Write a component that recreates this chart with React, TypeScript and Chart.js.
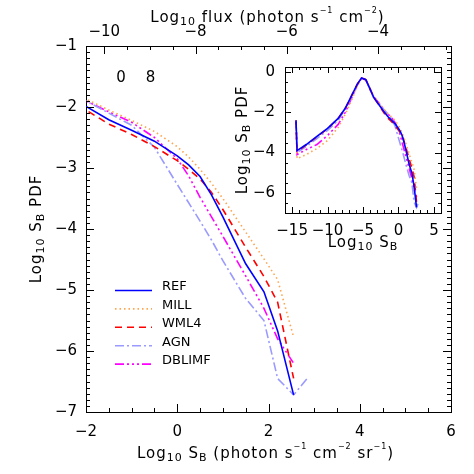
import React, { useEffect, useRef } from 'react';
import { Chart, registerables } from 'chart.js';
Chart.register(...registerables);

// ---------------- data ----------------
const sbGrid = [-14.45, -14.3, -13, -11.5, -10, -8.5, -7.5, -6.5, -5.8, -5.2, -4.6, -4.0, -3.5, -2.8, -2, -1.5, -1, -0.5, 0, 0.25, 0.5, 0.75, 1, 1.5, 1.9, 2.2, 2.55, 2.85];
const refPdf = [-2.4, -3.9, -3.6, -3.2, -2.8, -2.3, -1.8, -1.1, -0.6, -0.3, -0.38, -0.85, -1.25, -1.6, -1.99, -2.21, -2.38, -2.56, -2.8, -2.95, -3.14, -3.44, -3.8, -4.57, -5.03, -5.67, -6.72, null];
const millPdf = [-2.4, -4.3, -4.1, -3.8, -3.4, -2.75, -2.1, -1.3, -0.7, -0.32, -0.38, -0.82, -1.2, -1.5, -1.87, -2.05, -2.22, -2.4, -2.65, -2.82, -3.02, -3.25, -3.5, -4.05, -4.49, -4.83, -5.77, null];
const wml4Pdf = [-2.4, -3.95, -3.62, -3.22, -2.82, -2.3, -1.8, -1.1, -0.6, -0.3, -0.38, -0.85, -1.25, -1.62, -2.05, -2.28, -2.45, -2.65, -2.88, -3.02, -3.18, -3.4, -3.68, -4.3, -4.78, -5.2, -6.45, null];
const agnPdf = [-2.4, -4.0, -3.7, -3.3, -2.9, -2.4, -1.85, -1.12, -0.62, -0.3, -0.4, -0.88, -1.28, -1.55, -1.9, -2.1, -2.3, -2.66, -3.27, -3.57, -3.87, -4.18, -4.52, -5.14, -5.5, -6.45, -6.72, -6.45];
const dblimfPdf = [-2.4, -4.1, -3.85, -3.6, -3.15, -2.6, -2.0, -1.2, -0.65, -0.3, -0.38, -0.83, -1.22, -1.52, -1.9, -2.08, -2.25, -2.5, -2.85, -3.13, -3.48, -3.8, -4.12, -4.77, -5.3, -5.8, -6.2, null];
const seriesNames = ['REF', 'MILL', 'WML4', 'AGN', 'DBLIMF'];
const seriesValues = [refPdf, millPdf, wml4Pdf, agnPdf, dblimfPdf];

const mainXTicks = [-2, 0, 2, 4, 6];
const mainYTicks = [-7, -6, -5, -4, -3, -2, -1];
const fluxTicks = [-10, -8, -6, -4];
const insetXTicks = [-15, -10, -5, 0, 5];
const insetYTicks = [-6, -4, -2, 0];
const cornerLabels = ['0', '8'];

// ---------------- styles ----------------
const FONT = '"DejaVu Sans"';
const seriesStyles = [
  { color: '#0000ff', dash: [] as number[] },
  { color: '#ffa54f', dash: [1.5, 3] },
  { color: '#ff0000', dash: [7, 5] },
  { color: '#9a9aff', dash: [9, 3, 2, 3] },
  { color: '#ff00ff', dash: [9, 3, 2, 3, 2, 3, 2, 3] },
];

const fmt = (v: number) => (v < 0 ? '\u2212' + Math.abs(v) : String(v));

function buildDatasets() {
  return seriesNames.map((name, i) => ({
    label: name,
    data: sbGrid
      .map((x, j) => ({ x, y: seriesValues[i][j] }))
      .filter((p) => p.y !== null) as { x: number; y: number }[],
    borderColor: seriesStyles[i].color,
    borderDash: seriesStyles[i].dash,
    borderWidth: 1.6,
    pointRadius: 0,
    tension: 0,
    fill: false,
  }));
}

type Seg = [string, number];
function drawRich(ctx: CanvasRenderingContext2D, segs: Seg[], cx: number, cy: number, rot: number, size: number) {
  ctx.save();
  ctx.translate(cx, cy);
  if (rot) ctx.rotate(rot);
  (ctx as any).letterSpacing = '1px';
  const fontFor = (k: number) => `${k === 0 ? size : k < 0 ? 11 : 8}px ${FONT}`;
  const widths = segs.map(([t, k]) => {
    ctx.font = fontFor(k);
    return ctx.measureText(t).width;
  });
  const total = widths.reduce((a, b) => a + b, 0);
  let x = -total / 2;
  ctx.fillStyle = '#000';
  ctx.textBaseline = 'alphabetic';
  ctx.textAlign = 'left';
  const base = size * 0.365;
  segs.forEach(([t, k], i) => {
    ctx.font = fontFor(k);
    const dy = k < 0 ? 3 : k > 0 ? -9 : 0;
    ctx.fillText(t, x, base + dy);
    x += widths[i];
  });
  ctx.restore();
}

type TickSpec = { id: string; side: 'top' | 'bottom' | 'left' | 'right'; major: number[]; minor: number; majorLen: number; minorLen: number };
function ticksPlugin(specs: TickSpec[]) {
  return {
    id: 'inwardTicks',
    afterDraw(chart: any) {
      const { ctx, chartArea: a } = chart;
      ctx.save();
      ctx.strokeStyle = '#000';
      ctx.lineWidth = 1;
      for (const s of specs) {
        const sc = chart.scales[s.id];
        const start = Math.ceil(sc.min / s.minor - 1e-6);
        const end = Math.floor(sc.max / s.minor + 1e-6);
        for (let n = start; n <= end; n++) {
          const v = n * s.minor;
          const isMajor = s.major.some((m) => Math.abs(m - v) < 1e-6);
          const len = isMajor ? s.majorLen : s.minorLen;
          const p = Math.round(sc.getPixelForValue(v)) + 0.5;
          ctx.beginPath();
          if (s.side === 'bottom') { ctx.moveTo(p, a.bottom); ctx.lineTo(p, a.bottom - len); }
          else if (s.side === 'top') { ctx.moveTo(p, a.top); ctx.lineTo(p, a.top + len); }
          else if (s.side === 'left') { ctx.moveTo(a.left, p); ctx.lineTo(a.left + len, p); }
          else { ctx.moveTo(a.right, p); ctx.lineTo(a.right - len, p); }
          ctx.stroke();
        }
      }
      ctx.restore();
    },
  };
}

const titleBottom: Seg[] = [['Log', 0], ['10', -1], [' S', 0], ['B', -1], [' (photon s', 0], ['\u22121', 1], [' cm', 0], ['\u22122', 1], [' sr', 0], ['\u22121', 1], [')', 0]];
const titleTop: Seg[] = [['Log', 0], ['10', -1], [' flux (photon s', 0], ['\u22121', 1], [' cm', 0], ['\u22122', 1], [')', 0]];
const titleLeft: Seg[] = [['Log', 0], ['10', -1], [' S', 0], ['B', -1], [' PDF', 0]];
const titleInsetX: Seg[] = [['Log', 0], ['10', -1], [' S', 0], ['B', -1]];

const mainDecor = {
  id: 'mainDecor',
  afterDraw(chart: any) {
    const { ctx, chartArea: a } = chart;
    const cx = (a.left + a.right) / 2;
    drawRich(ctx, titleBottom, cx - 3, a.bottom + 41, 0, 15);
    drawRich(ctx, titleTop, cx - 1, a.top - 29, 0, 15);
    drawRich(ctx, titleLeft, a.left - 50, (a.top + a.bottom) / 2, -Math.PI / 2, 15);
    // corner labels
    ctx.save();
    ctx.fillStyle = '#000';
    ctx.font = `15px ${FONT}`;
    ctx.textAlign = 'center';
    ctx.textBaseline = 'middle';
    ctx.fillText(cornerLabels[0], a.left + 35, a.top + 32);
    ctx.fillText(cornerLabels[1], a.left + 64.5, a.top + 32);
    ctx.restore();
    // legend
    chart.data.datasets.forEach((ds: any, i: number) => {
      const ty = a.top + 241 + 18.4 * i;
      ctx.save();
      ctx.strokeStyle = ds.borderColor;
      ctx.lineWidth = ds.borderWidth;
      ctx.setLineDash(ds.borderDash || []);
      ctx.beginPath();
      ctx.moveTo(a.left + 29, ty + 3.5);
      ctx.lineTo(a.left + 66, ty + 3.5);
      ctx.stroke();
      ctx.setLineDash([]);
      ctx.fillStyle = '#000';
      ctx.font = `13px ${FONT}`;
      ctx.textAlign = 'left';
      ctx.textBaseline = 'middle';
      ctx.fillText(ds.label, a.left + 76, ty);
      ctx.restore();
    });
  },
};

const insetDecor = {
  id: 'insetDecor',
  afterDraw(chart: any) {
    const { ctx, chartArea: a } = chart;
    drawRich(ctx, titleInsetX, (a.left + a.right) / 2, a.bottom + 29, 0, 15);
    drawRich(ctx, titleLeft, a.left - 43, (a.top + a.bottom) / 2, -Math.PI / 2, 15);
  },
};

const fixedTicks = (vals: number[]) => (scale: any) => {
  scale.ticks = vals.map((v) => ({ value: v }));
};

export default function App() {
  const mainRef = useRef<HTMLCanvasElement>(null);
  const insetRef = useRef<HTMLCanvasElement>(null);

  useEffect(() => {
    const tickFont = { family: 'DejaVu Sans', size: 15 };
    const border = { display: true, color: '#000', width: 1 };
    const main = new Chart(mainRef.current!, {
      type: 'line',
      data: { datasets: buildDatasets() as any },
      options: {
        responsive: false,
        animation: false,
        events: [],
        layout: { padding: 0 },
        plugins: { legend: { display: false }, tooltip: { enabled: false }, title: { display: false } },
        scales: {
          x: {
            type: 'linear', position: 'bottom', min: -2, max: 6,
            afterBuildTicks: fixedTicks(mainXTicks),
            afterFit: (s: any) => { s.height = 62; },
            grid: { display: false, drawTicks: false }, border,
            ticks: { color: '#000', font: tickFont, padding: 11, maxRotation: 0, callback: (v: any) => fmt(v) },
          },
          x2: {
            type: 'linear', position: 'top', min: -10.4, max: -2.4,
            afterBuildTicks: fixedTicks(fluxTicks),
            afterFit: (s: any) => { s.height = 46; },
            grid: { display: false, drawTicks: false }, border,
            ticks: { color: '#000', font: tickFont, padding: 5, maxRotation: 0, callback: (v: any) => fmt(v) },
          },
          y: {
            type: 'linear', position: 'left', min: -7, max: -1,
            afterBuildTicks: fixedTicks(mainYTicks),
            afterFit: (s: any) => { s.width = 86; },
            grid: { display: false, drawTicks: false }, border,
            ticks: { color: '#000', font: tickFont, padding: 9, callback: (v: any) => fmt(v) },
          },
          y2: {
            type: 'linear', position: 'right', min: -7, max: -1,
            afterFit: (s: any) => { s.width = 23; },
            grid: { display: false, drawTicks: false }, border,
            ticks: { display: false },
          },
        },
      },
      plugins: [
        ticksPlugin([
          { id: 'x', side: 'bottom', major: mainXTicks, minor: 0.5, majorLen: 8, minorLen: 4 },
          { id: 'x2', side: 'top', major: fluxTicks, minor: 0.5, majorLen: 8, minorLen: 4 },
          { id: 'y', side: 'left', major: mainYTicks, minor: 0.1, majorLen: 8, minorLen: 4 },
          { id: 'y2', side: 'right', major: mainYTicks, minor: 0.1, majorLen: 8, minorLen: 4 },
        ]),
        mainDecor,
      ],
    } as any);

    const inset = new Chart(insetRef.current!, {
      type: 'line',
      data: { datasets: buildDatasets() as any },
      options: {
        responsive: false,
        animation: false,
        events: [],
        layout: { padding: 0 },
        plugins: { legend: { display: false }, tooltip: { enabled: false }, title: { display: false } },
        scales: {
          x: {
            type: 'linear', position: 'bottom', min: -16, max: 6,
            afterBuildTicks: fixedTicks(insetXTicks),
            afterFit: (s: any) => { s.height = 45; },
            grid: { display: false, drawTicks: false }, border,
            ticks: { color: '#000', font: tickFont, padding: 9, maxRotation: 0, callback: (v: any) => fmt(v) },
          },
          x2: {
            type: 'linear', position: 'top', min: -16, max: 6,
            afterFit: (s: any) => { s.height = 7; },
            grid: { display: false, drawTicks: false }, border,
            ticks: { display: false },
          },
          y: {
            type: 'linear', position: 'left', min: -7, max: 0.25,
            afterBuildTicks: fixedTicks(insetYTicks),
            afterFit: (s: any) => { s.width = 65; },
            grid: { display: false, drawTicks: false }, border,
            ticks: { color: '#000', font: tickFont, padding: 10, callback: (v: any) => fmt(v) },
          },
          y2: {
            type: 'linear', position: 'right', min: -7, max: 0.25,
            afterFit: (s: any) => { s.width = 9; },
            grid: { display: false, drawTicks: false }, border,
            ticks: { display: false },
          },
        },
      },
      plugins: [
        ticksPlugin([
          { id: 'x', side: 'bottom', major: insetXTicks, minor: 1, majorLen: 6, minorLen: 3 },
          { id: 'x2', side: 'top', major: insetXTicks, minor: 1, majorLen: 6, minorLen: 3 },
          { id: 'y', side: 'left', major: insetYTicks, minor: 0.5, majorLen: 6, minorLen: 3 },
          { id: 'y2', side: 'right', major: insetYTicks, minor: 0.5, majorLen: 6, minorLen: 3 },
        ]),
        insetDecor,
      ],
    } as any);

    return () => {
      main.destroy();
      inset.destroy();
    };
  }, []);

  return (
    <div style={{ position: 'fixed', left: 0, top: 0, width: 474, height: 474, background: '#fff' }}>
      <canvas ref={mainRef} width={474} height={474} style={{ position: 'absolute', left: 0, top: 0, display: 'block' }} />
      <canvas ref={insetRef} width={230} height={210} style={{ position: 'absolute', left: 220, top: 48, display: 'block' }} />
    </div>
  );
}
